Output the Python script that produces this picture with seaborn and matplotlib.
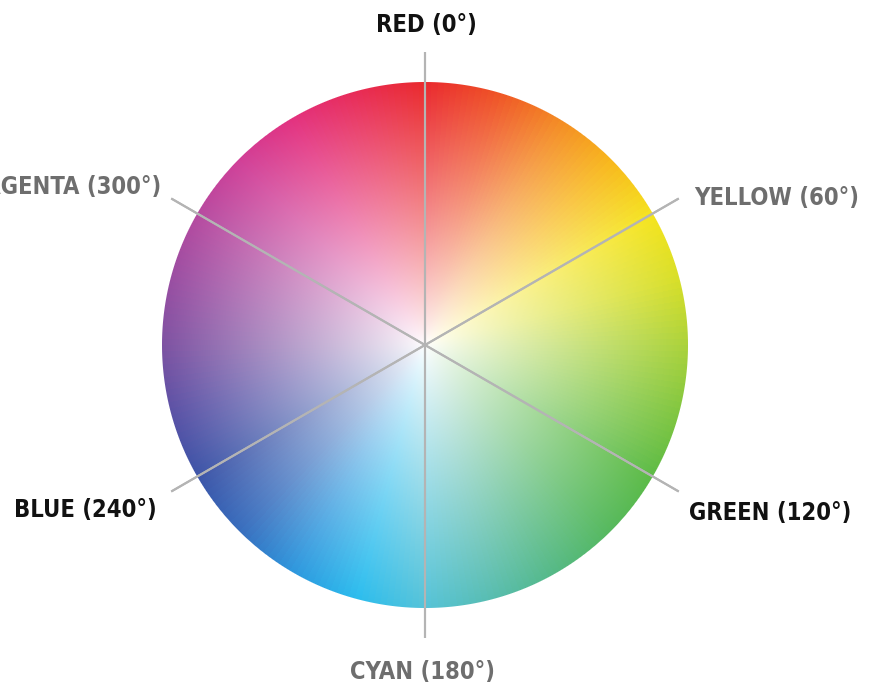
import numpy as np
import matplotlib
matplotlib.use("Agg")
import matplotlib.pyplot as plt
import seaborn as sns

sns.set_style("white")
plt.rcParams['font.family'] = ['DejaVu Sans']

# hue labels (degrees measured clockwise from the top)
hue_names = ['RED', 'YELLOW', 'GREEN', 'CYAN', 'BLUE', 'MAGENTA']
hue_degrees = [0, 60, 120, 180, 240, 300]
label_colors = ['#111111', '#6e6e6e', '#111111', '#6e6e6e', '#111111', '#6e6e6e']

# rim colours every 15 degrees, 0 -> 345 (wraps back to red)
rim_colors = ['#ea2a2e', '#ef5226', '#f48a24', '#f8b81c', '#f5e41e', '#d8df28',
              '#aad23a', '#80c640', '#5cbb46', '#56b95e', '#55b985', '#58bdb0',
              '#55c3d8', '#2cbdee', '#2e98de', '#386ebe', '#3c55a8', '#5a52a6',
              '#7d52a2', '#9a4ea2', '#b64aa0', '#d04098', '#e33280', '#e82c58']

# layout (pixels)
W, H = 872, 691
cx, cy, R = 425, 345, 263
spoke_len = 293
# label anchor: (x, y, ha)
label_pos = [(426, 25, 'center'), (694, 198, 'left'), (689, 513, 'left'),
             (422, 672, 'center'), (157, 510, 'right'), (161, 187, 'right')]

cmap = sns.blend_palette(rim_colors + rim_colors[:1], n_colors=361, as_cmap=True)

fig = plt.figure(figsize=(W / 100, H / 100), dpi=100)
ax = fig.add_axes([0, 0, 1, 1])
ax.set_xlim(0, W)
ax.set_ylim(H, 0)
ax.axis('off')

# colour wheel image
n = 2 * R
yy, xx = np.mgrid[0:n, 0:n] + 0.5
dx = xx - R
dy = yy - R
dist = np.hypot(dx, dy)
theta = (np.degrees(np.arctan2(dx, -dy)) + 360) % 360
rgb = cmap(theta / 360)[..., :3]
t = np.clip(dist / R, 0, 1)[..., None] ** 0.85
img = np.ones((n, n, 4))
img[..., :3] = 1 - t * (1 - rgb)
img[..., 3] = np.clip(R - dist + 0.5, 0, 1)
ax.imshow(img, extent=[cx - R, cx + R, cy + R, cy - R], interpolation='antialiased', zorder=1)

# spokes
for deg in hue_degrees:
    a = np.radians(deg)
    ax.plot([cx - np.sin(a) * spoke_len, cx + np.sin(a) * spoke_len],
            [cy + np.cos(a) * spoke_len, cy - np.cos(a) * spoke_len],
            color='#b4b4b4', lw=1.5, solid_capstyle='butt', zorder=2)

for name, deg, col, (x, y, ha) in zip(hue_names, hue_degrees, label_colors, label_pos):
    ax.text(x, y, f"{name} ({deg}°)", ha=ha, va='center', color=col,
            fontsize=17, fontweight='bold', fontstretch='condensed', zorder=3)

fig.savefig('out.png', dpi=100)
